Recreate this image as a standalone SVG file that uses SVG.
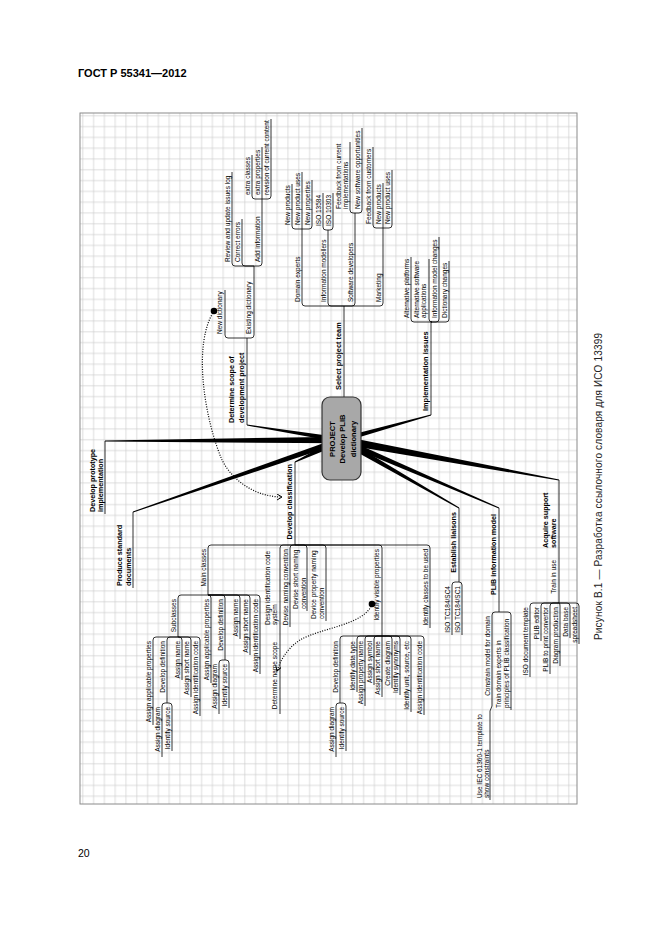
<svg xmlns="http://www.w3.org/2000/svg" width="661" height="936" viewBox="0 0 661 936">
<defs>
<pattern id="grid" x="80" y="113" width="10.8" height="10.8" patternUnits="userSpaceOnUse">
<path d="M0,2.8 H10.8 M2.8,0 V10.8" stroke="#cdcdcd" stroke-width="0.7" fill="none"/>
</pattern>
<marker id="arr" markerWidth="7" markerHeight="7" refX="5" refY="3" orient="auto" markerUnits="userSpaceOnUse">
<path d="M0,0 L5,3 L0,6" fill="none" stroke="#000" stroke-width="1"/>
</marker>
<style>
.t{font-family:"Liberation Sans",Arial,sans-serif;font-size:6.5px;fill:#000}
.b{font-weight:bold;font-size:7.2px}
.e{text-anchor:end}
.ul{fill:none;stroke:#000;stroke-width:0.8}
.tp{fill:#000;stroke:none}
.dot{fill:none;stroke:#000;stroke-width:1.2;stroke-dasharray:1 1.5}
</style>
</defs>
<rect width="661" height="936" fill="#fff"/>
<text x="78" y="77" style="font-family:'Liberation Sans',Arial,sans-serif;font-size:11px;font-weight:bold">ГОСТ Р 55341—2012</text>
<text x="78" y="857" style="font-family:'Liberation Sans',Arial,sans-serif;font-size:10.5px">20</text>
<text transform="translate(602,640) rotate(-90)" textLength="307" lengthAdjust="spacing" style="font-family:'Liberation Sans',Arial,sans-serif;font-size:10px;fill:#222">Рисунок В.1 — Разработка ссылочного словаря для ИСО 13399</text>
<rect x="80" y="113" width="497" height="691" fill="url(#grid)" stroke="#8a8a8a" stroke-width="1"/>

<g id="connectors">
<polygon class="tp" points="341,436.7 105,440.5 105,441.5 341,443.3"/>
<polygon class="tp" points="341.98,442.84 133.16,512.47 132.84,511.53 340.02,437.16"/>
<polygon class="tp" points="341.4,437.53 247.08,424.51 246.92,425.49 340.6,442.47"/>
<polygon class="tp" points="342.51,443.16 295.22,462.45 294.78,461.55 339.49,436.84"/>
<polygon class="tp" points="341.67,442.41 431.13,415.48 430.87,414.52 340.33,437.59"/>
<polygon class="tp" points="340.28,443.94 558.89,480.59 559.11,479.41 341.72,436.06"/>
<polygon class="tp" points="339.5,442.6 458.75,508.43 459.25,507.57 342.5,437.4"/>
<polygon class="tp" points="339.81,442.76 498.8,508.46 499.2,507.54 342.19,437.24"/>
<path class="ul" d="M247,425 V338 M247,338 H228 Q225,338 225,335 V290 M247,338 H251 Q254,338 254,335 V266
M254,266 H235 Q232,266 232,263 V172 M254,266 H245 Q242,266 242,263 V219 M254,266 H259 Q262,266 262,263 V199
M262,199 H255 Q252,199 252,196 V155 M262,199 V147 M262,199 H268 Q271,199 271,196 V119
M344,397 V306 M344,306 H305 Q302,306 302,303 V229 M344,306 H331 Q328,306 328,303 V230 M344,306 H352 Q355,306 355,303 V213 M344,306 H380 Q383,306 383,303 V228
M302,229 H295 Q292,229 292,226 V184 M302,229 V172 M302,229 H309 Q312,229 312,226 V180
M328,230 H326 Q323,230 323,227 V193 M328,230 H330 Q333,230 333,227 V193
M355,213 H353 Q350,213 350,210 V142 M355,213 H359 Q362,213 362,210 V128
M383,228 H376 Q373,228 373,225 V147 M383,228 V183 M383,228 H389 Q392,228 392,225 V170
M431,415 V322 M431,322 H414 Q411,322 411,319 V257 M431,322 H432 Q429,322 429,319 V259 M431,322 H436 Q439,322 439,319 V237 M431,322 H446 Q449,322 449,319 V261
M105,441 V514 M133,512 V588
M295,462 V545 M295,545 H211 Q208,545 208,548 V595 M295,545 H283 Q280,545 280,548 V714 M295,545 H293 Q290,545 290,548 V627 M295,545 H304 Q307,545 307,548 V611 M295,545 H323 Q326,545 326,548 V621 M295,545 H379 Q382,545 382,548 V636 M295,545 H427 Q430,545 430,548 V628
M208,595 H181 Q178,595 178,598 V637 M208,595 Q211,595 211,598 V683 M208,595 H222 Q225,595 225,598 V660 M208,595 H237 Q240,595 240,598 V639 M208,595 H247 Q250,595 250,598 V655 M208,595 H257 Q260,595 260,598 V674
M225,660 H222 Q219,660 219,663 V714 M225,660 H226 Q229,660 229,663 V708
M178,637 H156 Q153,637 153,640 V725 M178,637 H170 Q167,637 167,640 V703 M178,637 H179 Q182,637 182,640 V680 M178,637 H188 Q191,637 191,640 V697 M178,637 H197 Q200,637 200,640 V716
M167,703 H165 Q162,703 162,706 V757 M167,703 H169 Q172,703 172,706 V751
M382,636 H343 Q340,636 340,639 V703 M382,636 H360 Q357,636 357,639 V692 M382,636 H368 Q365,636 365,639 V706 M382,636 H377 Q374,636 374,639 V685 M382,636 V697 M382,636 H389 Q392,636 392,639 V688 M382,636 H397 Q400,636 400,639 V695 M382,636 H408 Q411,636 411,639 V712 M382,636 H421 Q424,636 424,639 V715
M340,703 H339 Q336,703 336,706 V757 M340,703 H343 Q346,703 346,706 V751
M459,508 V582 M459,582 H455 Q452,582 452,585 V635 M459,582 Q462,582 462,585 V635
M499,508 V612 M499,612 H495 Q492,612 492,615 V706 L490,711 V800 M499,612 H508 Q511,612 511,615 V710
M559,480 V603 M559,603 H533 Q530,603 530,606 V677 M559,603 H544 Q541,603 541,606 V641 M559,603 H553 Q550,603 550,606 V674 M559,603 Q560,603 560,606 V666 M559,603 H567 Q570,603 570,606 V638 M559,603 H576 Q579,603 579,606 V644"/>
<path class="dot" d="M214,311 C192,345 205,420 222,460 C235,485 260,497 282,497" marker-end="url(#arr)"/>
<path class="dot" d="M372,604 C365,625 320,628 300,640 C285,650 280,662 277,671" marker-end="url(#arr)"/>
<circle cx="214" cy="311" r="3.3" fill="#000"/>
<circle cx="372" cy="604" r="3.3" fill="#000"/>
</g>

<g id="n-center">
<rect x="322" y="397" width="39" height="83" rx="8" fill="#a8a8a8" stroke="#333" stroke-width="1.2"/>
<text class="t" transform="translate(334.5,439) rotate(-90)" style="font-weight:bold;font-size:7.6px;text-anchor:middle"><tspan x="0" y="0">PROJECT</tspan><tspan x="0" y="10.5">Develop PLIB</tspan><tspan x="0" y="21">dictionary</tspan></text>
</g>

<g id="n-determine"><text class="t b" transform="translate(234,423) rotate(-90)"><tspan x="0" y="0">Determine scope of</tspan><tspan x="0" y="9.5">development project</tspan></text></g>
<g id="n-newdict"><text class="t" transform="translate(222,334) rotate(-90)">New dictionary</text></g>
<g id="n-existdict"><text class="t" transform="translate(251,334) rotate(-90)">Existing dictionary</text></g>
<g id="n-review"><text class="t" transform="translate(230,262) rotate(-90)">Review and update issues log</text></g>
<g id="n-correct"><text class="t" transform="translate(240,262) rotate(-90)">Correct errors</text></g>
<g id="n-addinfo"><text class="t" transform="translate(260,262) rotate(-90)">Add information</text></g>
<g id="n-extracl"><text class="t" transform="translate(250,195) rotate(-90)">extra classes</text></g>
<g id="n-extrapr"><text class="t" transform="translate(259.5,195) rotate(-90)">extra properties</text></g>
<g id="n-revision"><text class="t" transform="translate(269,195) rotate(-90)">revision of current content</text></g>

<g id="n-select"><text class="t b" transform="translate(341,390) rotate(-90)" style="font-size:7.4px">Select project team</text></g>
<g id="n-domain"><text class="t" transform="translate(300,302) rotate(-90)">Domain experts</text></g>
<g id="n-infomod"><text class="t" transform="translate(326,302) rotate(-90)">Information modellers</text></g>
<g id="n-softdev"><text class="t" transform="translate(353,302) rotate(-90)">Software developers</text></g>
<g id="n-marketing"><text class="t" transform="translate(381,302) rotate(-90)">Marketing</text></g>
<g id="n-newprod1"><text class="t" transform="translate(290,225) rotate(-90)">New products</text></g>
<g id="n-newuses1"><text class="t" transform="translate(300,225) rotate(-90)">New product uses</text></g>
<g id="n-newprop"><text class="t" transform="translate(310,225) rotate(-90)">New properties</text></g>
<g id="n-iso13584"><text class="t" transform="translate(321,226) rotate(-90)">ISO 13584</text></g>
<g id="n-iso10303"><text class="t" transform="translate(331,226) rotate(-90)">ISO 10303</text></g>
<g id="n-feedcur"><text class="t" transform="translate(341,209) rotate(-90)"><tspan x="0" y="0">Feedback from current</tspan><tspan x="0" y="7.2">implementations</tspan></text></g>
<g id="n-newsoft"><text class="t" transform="translate(360,209) rotate(-90)">New software opportunities</text></g>
<g id="n-feedcust"><text class="t" transform="translate(371,224) rotate(-90)">Feedback from customers</text></g>
<g id="n-newprod2"><text class="t" transform="translate(381,224) rotate(-90)">New products</text></g>
<g id="n-newuses2"><text class="t" transform="translate(390,224) rotate(-90)">New product uses</text></g>

<g id="n-impl"><text class="t b" transform="translate(428,411) rotate(-90)" style="font-size:7.4px">Implementation issues</text></g>
<g id="n-altplat"><text class="t" transform="translate(409,318) rotate(-90)">Alternative platforms</text></g>
<g id="n-altsoft"><text class="t" transform="translate(419,318) rotate(-90)"><tspan x="0" y="0">Alternative software</tspan><tspan x="0" y="7">applications</tspan></text></g>
<g id="n-infochg"><text class="t" transform="translate(437,318) rotate(-90)">Information model changes</text></g>
<g id="n-dictchg"><text class="t" transform="translate(447,318) rotate(-90)">Dictionary changes</text></g>

<g id="n-proto"><text class="t b" transform="translate(94.5,512) rotate(-90)"><tspan x="0" y="0">Develop prototype</tspan><tspan x="0" y="8">implementation</tspan></text></g>
<g id="n-produce"><text class="t b" transform="translate(122,586) rotate(-90)"><tspan x="0" y="0">Produce standard</tspan><tspan x="0" y="8.5">documents</tspan></text></g>
<g id="n-devclass"><text class="t b e" transform="translate(292,464) rotate(-90)">Develop classification</text></g>
<g id="n-mainclasses"><text class="t e" transform="translate(206,549) rotate(-90)">Main classes</text></g>
<g id="n-designid"><text class="t" transform="translate(270,625) rotate(-90)"><tspan x="0" y="0">Design identification code</tspan><tspan x="0" y="7.2">system</tspan></text></g>
<g id="n-devnaming"><text class="t e" transform="translate(288,549) rotate(-90)">Devise naming convention</text></g>
<g id="n-devshort"><text class="t" transform="translate(298,609) rotate(-90)"><tspan x="0" y="0">Devise short naming</tspan><tspan x="0" y="7.5">convention</tspan></text></g>
<g id="n-devprop"><text class="t" transform="translate(316,619) rotate(-90)"><tspan x="0" y="0">Device property naming</tspan><tspan x="0" y="7.5">convention</tspan></text></g>
<g id="n-idvis"><text class="t e" transform="translate(379,549) rotate(-90)">Identify visible properties</text></g>
<g id="n-idclasses"><text class="t e" transform="translate(428,549) rotate(-90)">Identify classes to be used</text></g>
<g id="n-subclasses"><text class="t e" transform="translate(176,599) rotate(-90)">Subclasses</text></g>
<g id="n-aap1"><text class="t e" transform="translate(209,599) rotate(-90)">Assign applicable properties</text></g>
<g id="n-devdef1"><text class="t e" transform="translate(223,599) rotate(-90)">Develop definition</text></g>
<g id="n-assignname1"><text class="t e" transform="translate(238,599) rotate(-90)">Assign name</text></g>
<g id="n-assignshort1"><text class="t e" transform="translate(248,599) rotate(-90)">Assign short name</text></g>
<g id="n-aic1"><text class="t e" transform="translate(258,599) rotate(-90)">Assign identification code</text></g>
<g id="n-assigndiag1"><text class="t e" transform="translate(217,664) rotate(-90)">Assign diagram</text></g>
<g id="n-idsource1"><text class="t e" transform="translate(227,664) rotate(-90)">Identify source</text></g>
<g id="n-aap2"><text class="t e" transform="translate(151,641) rotate(-90)">Assign applicable properties</text></g>
<g id="n-devdef2"><text class="t e" transform="translate(165,641) rotate(-90)">Develop definition</text></g>
<g id="n-assignname2"><text class="t e" transform="translate(180,641) rotate(-90)">Assign name</text></g>
<g id="n-assignshort2"><text class="t e" transform="translate(189,641) rotate(-90)">Assign short name</text></g>
<g id="n-aic2"><text class="t e" transform="translate(198,641) rotate(-90)">Assign identification code</text></g>
<g id="n-assigndiag2"><text class="t e" transform="translate(160,707) rotate(-90)">Assign diagram</text></g>
<g id="n-idsource2"><text class="t e" transform="translate(170,707) rotate(-90)">Identify source</text></g>
<g id="n-detname"><text class="t e" transform="translate(277,642) rotate(-90)">Determine name scope</text></g>
<g id="n-devdef3"><text class="t e" transform="translate(338,641) rotate(-90)">Develop definition</text></g>
<g id="n-iddatatype"><text class="t e" transform="translate(355,641) rotate(-90)">Identify data type</text></g>
<g id="n-assignprop"><text class="t e" transform="translate(363,641) rotate(-90)">Assign property name</text></g>
<g id="n-assignsym"><text class="t e" transform="translate(372,641) rotate(-90)">Assign symbol</text></g>
<g id="n-assignshort3"><text class="t e" transform="translate(380,641) rotate(-90)">Assign short name</text></g>
<g id="n-creatediag"><text class="t e" transform="translate(390,641) rotate(-90)">Create diagram</text></g>
<g id="n-idsyn"><text class="t e" transform="translate(398,641) rotate(-90)">Identify synonyms</text></g>
<g id="n-idunit"><text class="t e" transform="translate(409,641) rotate(-90)">Identify unit, source, etc</text></g>
<g id="n-aic3"><text class="t e" transform="translate(422,641) rotate(-90)">Assign identification code</text></g>
<g id="n-assigndiag3"><text class="t e" transform="translate(334,707) rotate(-90)">Assign diagram</text></g>
<g id="n-idsource3"><text class="t e" transform="translate(344,707) rotate(-90)">Identify source</text></g>
<g id="n-liaisons"><text class="t b e" transform="translate(456,512) rotate(-90)">Establish liaisons</text></g>
<g id="n-sc4"><text class="t e" transform="translate(450,586) rotate(-90)">ISO TC184/SC4</text></g>
<g id="n-sc1"><text class="t e" transform="translate(460,586) rotate(-90)">ISO TC184/SC1</text></g>
<g id="n-plib"><text class="t b e" transform="translate(496,514) rotate(-90)">PLIB information model</text></g>
<g id="n-constrain"><text class="t e" transform="translate(490,616) rotate(-90)">Constrain model for domain</text></g>
<g id="n-useiec"><text class="t" transform="translate(482,798) rotate(-90)"><tspan x="0" y="0">Use IEC 61360-1 template to</tspan><tspan x="0" y="6.8">show constraints</tspan></text></g>
<g id="n-traindom"><text class="t" transform="translate(501,708) rotate(-90)"><tspan x="0" y="0">Train domain experts in</tspan><tspan x="0" y="8">principles of PLIB classification</tspan></text></g>
<g id="n-acquire"><text class="t b" transform="translate(548,548) rotate(-90)"><tspan x="0" y="0">Acquire support</tspan><tspan x="0" y="8">software</tspan></text></g>
<g id="n-traininuse"><text class="t e" transform="translate(556,560) rotate(-90)">Train in use</text></g>
<g id="n-isodoc"><text class="t e" transform="translate(528,607) rotate(-90)">ISO document template</text></g>
<g id="n-plibeditor"><text class="t e" transform="translate(539,607) rotate(-90)">PLIB editor</text></g>
<g id="n-plibprint"><text class="t e" transform="translate(548,607) rotate(-90)">PLIB to print convertor</text></g>
<g id="n-diagprod"><text class="t e" transform="translate(558,607) rotate(-90)">Diagram production</text></g>
<g id="n-database"><text class="t e" transform="translate(568,607) rotate(-90)">Data base</text></g>
<g id="n-spreadsheet"><text class="t e" transform="translate(577,607) rotate(-90)">spreadsheet</text></g>
</svg>
